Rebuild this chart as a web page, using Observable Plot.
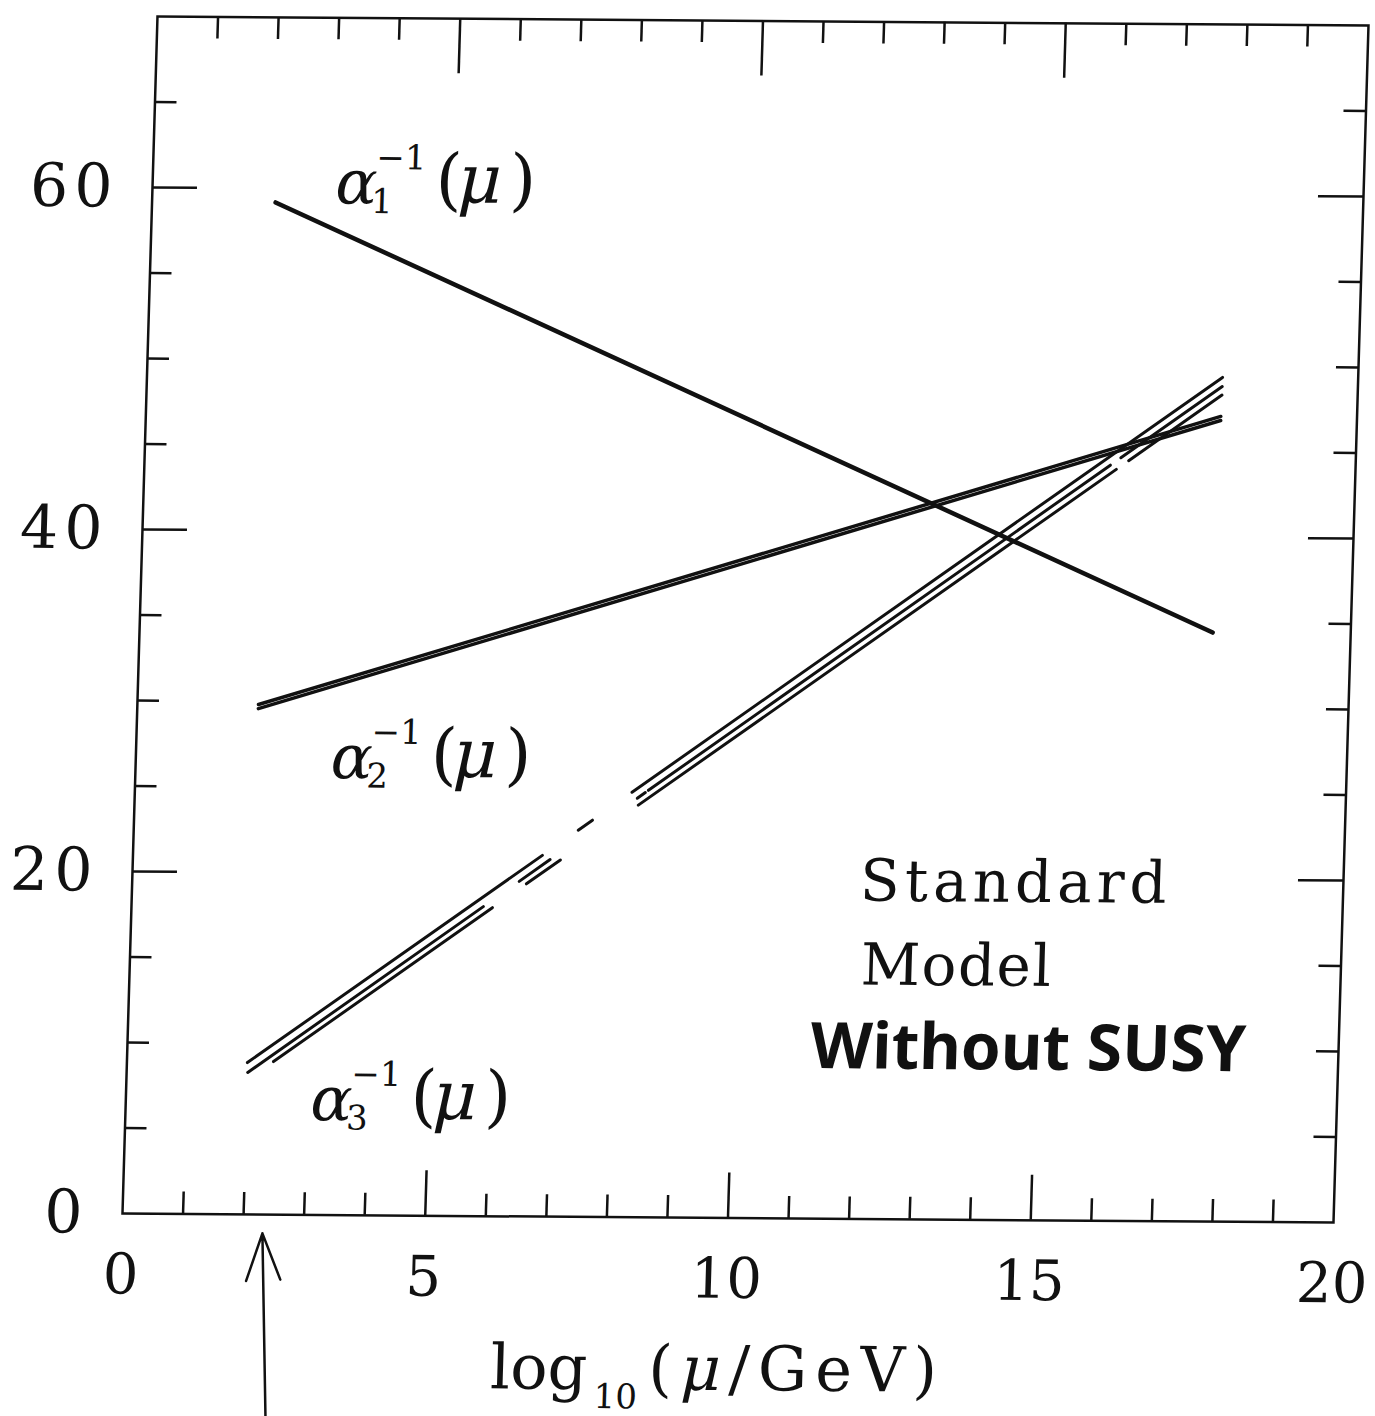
<!DOCTYPE html>
<html>
<head>
<meta charset="utf-8">
<script src="https://cdn.jsdelivr.net/npm/d3@7"></script>
<script src="https://cdn.jsdelivr.net/npm/@observablehq/plot@0.6"></script>
<style>
  html, body { margin: 0; padding: 0; background: #fff; }
  #chart { width: 1375px; height: 1416px; overflow: hidden; }
</style>
</head>
<body>
<div id="chart"></div>
<script>
// ---- Axis ticks and labels ----
const xTickLabels = [0, 5, 10, 15, 20];
const yTickLabels = [0, 20, 40, 60];
const xMinorTicks = [1, 2, 3, 4, 6, 7, 8, 9, 11, 12, 13, 14, 16, 17, 18, 19];
const xMajorTicks = [5, 10, 15];
const yMinorTicks = [5, 10, 15, 25, 30, 35, 45, 50, 55, 65];
const yMajorTicks = [20, 40, 60];

// ---- Curves: segments [x1, y1, x2, y2] (log10(mu/GeV), inverse coupling) ----
const alpha1Segments = [[2.04, 59.18, 17.72, 34.44]];
const alpha2Upper = [[2.0, 29.82, 17.75, 47.08]];
const alpha2Lower = [[2.0, 29.58, 17.75, 46.84]];
const alpha3Top = [[1.99, 8.88, 6.76, 21.12], [7.34, 22.61, 7.57, 23.20], [8.21, 24.85, 17.76, 49.36]];
const alpha3Mid = [[2.0, 8.30, 5.81, 18.10], [6.39, 19.59, 6.89, 20.88], [8.30, 24.50, 8.43, 24.84],
                   [8.48, 24.97, 15.95, 44.18], [16.12, 44.62, 17.76, 48.83]];
const alpha3Bot = [[2.42, 8.95, 5.96, 18.04], [6.51, 19.45, 7.06, 20.86], [8.32, 24.10, 16.05, 43.94],
                   [16.25, 44.45, 17.76, 48.33]];

// ---- Curve labels ----
const curveLabelX = [3.02, 3.22, 3.05];
const curveLabelY = [60.3, 26.7, 6.7];
const curveLabelSub = ["1", "2", "3"];

// ---- Annotation text ----
const noteText = ["Standard", "Model"];
const noteX = [12.02, 12.07];
const noteY = [19.7, 14.8];
const handNote = "Without SUSY";
const handNoteX = 11.28, handNoteY = 10.0;

// ---- Hand-drawn arrow below the axis (points at the Z mass) ----
const arrowFrom = [2.46, -11.9];
const arrowTo = [2.32, -1.1];

// ---- Axis title pieces ----
const axisTitleX = 6.15, axisTitleY = -8.9;

const toSeg = arr => arr.map(([x1, y1, x2, y2]) => ({x1, y1, x2, y2}));
const curveLabels = curveLabelX.map((x, i) => ({x, y: curveLabelY[i], sub: curveLabelSub[i]}));
const notes = noteText.map((t, i) => ({t, x: noteX[i], y: noteY[i]}));

const W = 1375, Hgt = 1416;
const mL = 122, mR = 42, mT = 16, mB = 203;
const FW = W - mL - mR, FH = Hgt - mT - mB;
const ink = "#111";
const serif = "DejaVu Serif";

const segOpts = (sw) => ({x1: "x1", y1: "y1", x2: "x2", y2: "y2", stroke: ink, strokeWidth: sw, strokeLinecap: "round"});

const chart = Plot.plot({
  width: W,
  height: Hgt,
  marginLeft: mL, marginRight: mR, marginTop: mT, marginBottom: mB,
  x: {domain: [0, 20], label: null},
  y: {domain: [0, 70], label: null},
  style: {fontFamily: serif, color: ink, background: "#fff", overflow: "visible"},
  marks: [
    Plot.frame({stroke: ink, strokeWidth: 2.5}),
    // inward ticks
    Plot.ruleX(xMinorTicks, {insetTop: FH - 22, stroke: ink, strokeWidth: 2.5}),
    Plot.ruleX(xMajorTicks, {insetTop: FH - 45, stroke: ink, strokeWidth: 2.5}),
    Plot.ruleX(xMinorTicks, {insetBottom: FH - 22, stroke: ink, strokeWidth: 2.5}),
    Plot.ruleX(xMajorTicks, {insetBottom: FH - 55, stroke: ink, strokeWidth: 2.5}),
    Plot.ruleY(yMinorTicks, {insetRight: FW - 22, stroke: ink, strokeWidth: 2.5}),
    Plot.ruleY(yMajorTicks, {insetRight: FW - 45, stroke: ink, strokeWidth: 2.5}),
    Plot.ruleY(yMinorTicks, {insetLeft: FW - 22, stroke: ink, strokeWidth: 2.5}),
    Plot.ruleY(yMajorTicks, {insetLeft: FW - 45, stroke: ink, strokeWidth: 2.5}),
    // tick labels
    Plot.axisX({ticks: xTickLabels, tickSize: 0, tickPadding: 40, fontSize: 56, fontFamily: serif, label: null}),
    Plot.axisY({ticks: yTickLabels, tickSize: 0, tickPadding: 34, fontSize: 60, fontFamily: serif, label: null}),
    // curves
    Plot.link(toSeg(alpha1Segments), segOpts(4.5)),
    Plot.link(toSeg(alpha2Upper), segOpts(3.5)),
    Plot.link(toSeg(alpha2Lower), segOpts(3.5)),
    Plot.link(toSeg(alpha3Top), segOpts(3)),
    Plot.link(toSeg(alpha3Mid), segOpts(3)),
    Plot.link(toSeg(alpha3Bot), segOpts(3)),
    // curve labels  α_i^{-1}(μ)
    Plot.text(curveLabels, {x: "x", y: "y", text: () => "α", textAnchor: "start", fontStyle: "italic", fontSize: 62, fill: ink}),
    Plot.text(curveLabels, {x: "x", y: "y", text: () => "−1", textAnchor: "start", dx: 40, dy: -26, fontSize: 34, fill: ink}),
    Plot.text(curveLabels, {x: "x", y: "y", text: "sub", textAnchor: "start", dx: 36, dy: 18, fontSize: 34, fill: ink}),
    Plot.text(curveLabels, {x: "x", y: "y", text: () => "(", textAnchor: "start", dx: 100, dy: -4, fontSize: 68, fill: ink}),
    Plot.text(curveLabels, {x: "x", y: "y", text: () => "μ", textAnchor: "start", dx: 122, dy: -4, fontSize: 68, fontStyle: "italic", fill: ink}),
    Plot.text(curveLabels, {x: "x", y: "y", text: () => ")", textAnchor: "start", dx: 174, dy: -4, fontSize: 68, fill: ink}),
    // notes
    Plot.text(notes, {x: "x", y: "y", text: "t", textAnchor: "start", fontSize: 58, fill: ink}),
    Plot.text([handNote], {x: () => handNoteX, y: () => handNoteY, text: d => d, textAnchor: "start", fontSize: 64, fontWeight: 700, fontFamily: "Noto Sans", fill: ink}),
    // axis title: log10 (μ/GeV)
    Plot.text(["log"], {x: () => axisTitleX, y: () => axisTitleY, text: d => d, textAnchor: "start", fontSize: 62, fill: ink}),
    Plot.text(["10"], {x: () => axisTitleX, y: () => axisTitleY, text: d => d, textAnchor: "start", dx: 104, dy: 28, fontSize: 34, fill: ink}),
    Plot.text(["(μ/GeV)"], {x: () => axisTitleX, y: () => axisTitleY, text: d => d, textAnchor: "start", dx: 158, fontSize: 62, fill: ink}),
    // arrow
    Plot.arrow([0], {x1: () => arrowFrom[0], y1: () => arrowFrom[1], x2: () => arrowTo[0], y2: () => arrowTo[1],
                     stroke: ink, strokeWidth: 2.5, headLength: 30, headAngle: 40})
  ]
});

// typographic tweaks: letter spacing and italic μ in the axis title
const spacing = {"Standard": "5px", "Model": "1.5px", "(μ/GeV)": "8px"};
d3.select(chart).selectAll("text").each(function() {
  const t = this.textContent;
  if (spacing[t]) this.style.letterSpacing = spacing[t];
  if (t === "(μ/GeV)") {
    const el = d3.select(this);
    el.text(null);
    el.append("tspan").text("(");
    el.append("tspan").attr("font-style", "italic").text("μ");
    el.append("tspan").text("/GeV)");
  }
});
d3.select(chart).selectAll("g[aria-label='y-axis tick label'] text").style("letter-spacing", "6px");

// reproduce the slight skew/rotation of the scanned original
chart.style.transformOrigin = "0 0";
chart.style.transform = "matrix(1, 0.00743, -0.02924, 1, 35.47, -0.906)";

document.getElementById("chart").appendChild(chart);
</script>
</body>
</html>
